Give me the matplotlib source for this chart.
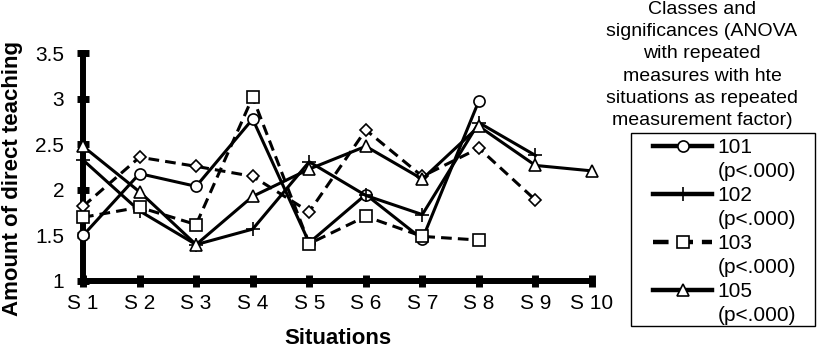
import numpy as np
import matplotlib
matplotlib.use('agg')
import matplotlib.pyplot as plt
from matplotlib.patches import Rectangle
from matplotlib.lines import Line2D

plt.rcParams['font.family'] = ['Liberation Sans', 'DejaVu Sans']

situations = ["S 1", "S 2", "S 3", "S 4", "S 5", "S 6", "S 7", "S 8", "S 9", "S 10"]

# values
class_101 = [1.50, 2.18, 2.04, 2.78, 1.42, 1.95, 1.46, 2.98]
class_102 = [2.33, 1.77, 1.40, 1.57, 2.31, 1.94, 1.73, 2.74, 2.38]
class_103 = [1.70, 1.81, 1.62, 3.02, 1.41, 1.71, 1.49, 1.45]
class_104 = [1.82, 2.36, 2.26, 2.15, 1.76, 2.66, 2.15, 2.46, 1.89]
class_105 = [2.48, 1.98, 1.40, 1.93, 2.23, 2.48, 2.12, 2.70, 2.27, 2.21]

legend_title = ("Classes and\nsignificances (ANOVA\nwith repeated\nmeasures with hte\n"
                "situations as repeated\nmeasurement factor)")
p_text = "(p<.000)"

W, H = 817, 349
fig = plt.figure(figsize=(W / 100, H / 100), dpi=100)
ax = fig.add_axes([83 / W, 1 - 281 / H, (592 - 83) / W, (281 - 53.5) / H])

x = np.arange(1, len(situations) + 1)

def draw(vals, marker, ls, label, ms=8):
    xs = x[:len(vals)]
    line, = ax.plot(xs, vals, color="black", linestyle=ls, linewidth=2.2, marker=marker,
                    markersize=ms, markerfacecolor="white", markeredgecolor="black",
                    markeredgewidth=1.2, label=label, clip_on=False, zorder=3)
    return line

dash = (0, (3.5, 2))
h101 = draw(class_101, "o", "-", "101")
h102 = draw(class_102, "+", "-", "102", ms=10)
h104 = draw(class_104, "D", dash, "_nolegend_", ms=6.5)
h103 = draw(class_103, "s", dash, "103")
h105 = draw(class_105, "^", "-", "105", ms=8.5)

ax.set_xlim(1, 10)
ax.set_ylim(1, 3.5)
ax.set_xticks(x)
ax.set_xticklabels(situations)
ax.set_yticks([1, 1.5, 2, 2.5, 3, 3.5])
ax.set_yticklabels(["1", "1.5", "2", "2.5", "3", "3.5"])

for s in ["top", "right"]:
    ax.spines[s].set_visible(False)
for s in ["left", "bottom"]:
    ax.spines[s].set_linewidth(4.3)
    ax.spines[s].set_zorder(2)
ax.tick_params(direction="inout", length=9, width=5)
ax.tick_params(axis="x", labelsize=15, pad=5)
ax.tick_params(axis="y", labelsize=15, pad=9)
ax.patch.set_alpha(0)

ax.set_xlabel("Situations", fontsize=16, fontweight="bold")
ax.xaxis.set_label_coords(0.5, -0.205)
ax.set_ylabel("Amount of direct teaching", fontsize=16, fontweight="bold")
ax.yaxis.set_label_coords(-0.118, 0.45)

# legend frame drawn separately so the padding matches
fig.patches.append(Rectangle((631 / W, 1 - 326 / H), (815 - 631) / W, (326 - 133) / H,
                             transform=fig.transFigure, fill=False, edgecolor="black",
                             linewidth=1.0))

blank = Line2D([], [], color="none")
handles, labels = [], []
for h in [h101, h102, h103, h105]:
    handles += [h, blank]
    labels += [h.get_label(), p_text]

leg = fig.legend(handles=handles, labels=labels, loc="upper left",
                 bbox_to_anchor=(653 / W, 1 - 138 / H), fontsize=15,
                 frameon=False, handlelength=2.85, handletextpad=0.25,
                 labelspacing=0.24, borderpad=0, borderaxespad=0)
for lh in leg.get_lines():
    lh.set_linewidth(3.2)

fig.text(702 / W, 1 - 1 / H, legend_title, ha="center", va="top", fontsize=14,
         linespacing=1.4)

fig.savefig("out.png", dpi=100)
